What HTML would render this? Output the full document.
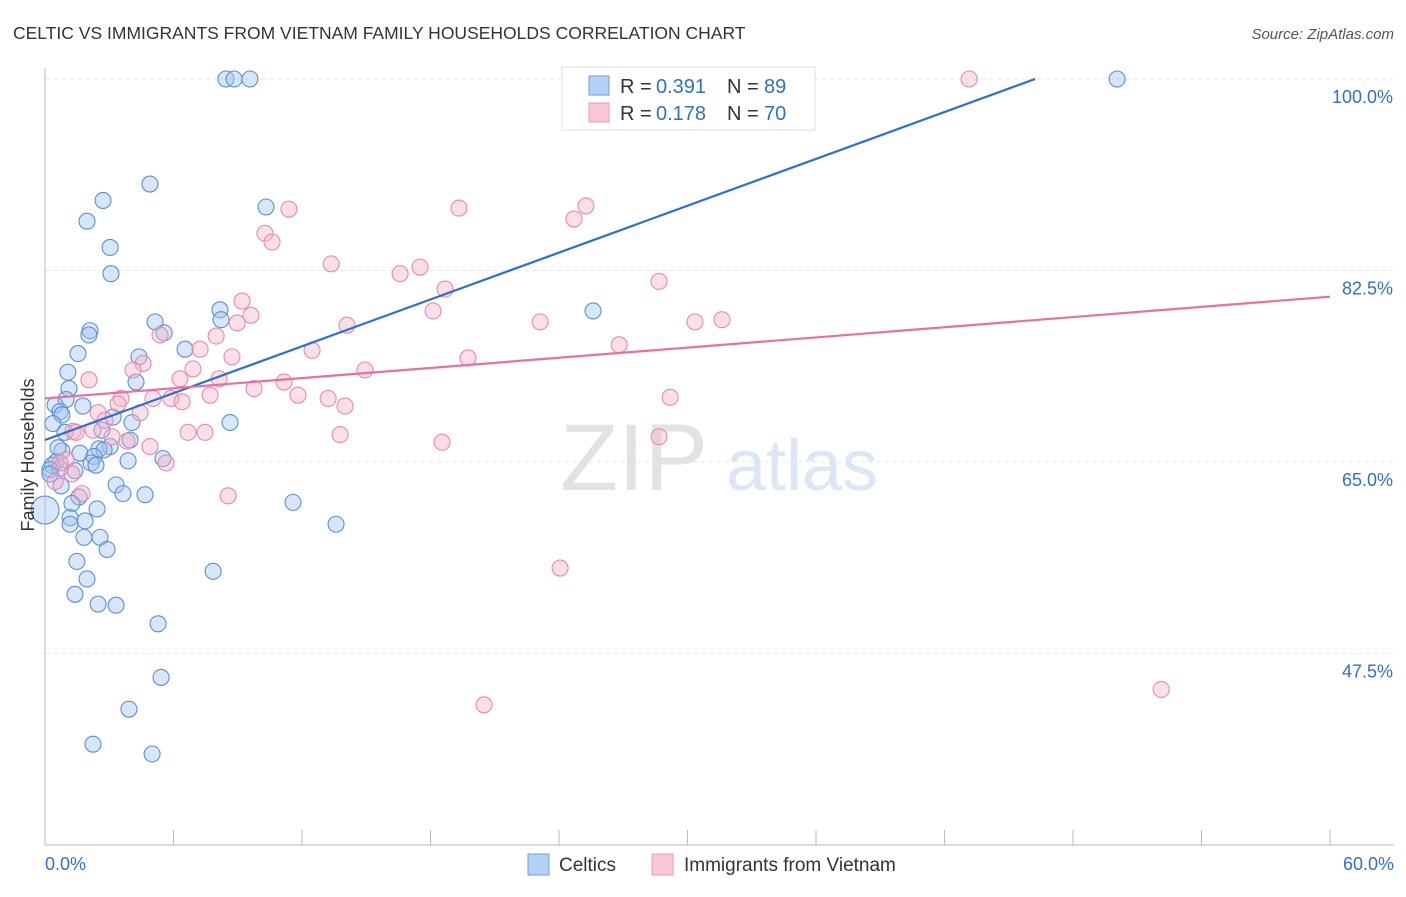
<!DOCTYPE html>
<html><head><meta charset="utf-8"><style>
body{margin:0;background:#fff;font-family:"Liberation Sans",sans-serif}
svg text{font-family:"Liberation Sans",sans-serif}
</style></head><body>
<svg id="chart" width="1406" height="892" viewBox="0 0 1406 892" xmlns="http://www.w3.org/2000/svg">
<text x="13" y="39" font-size="17.5" fill="#333">CELTIC VS IMMIGRANTS FROM VIETNAM FAMILY HOUSEHOLDS CORRELATION CHART</text>
<text x="1394" y="39" font-size="15" fill="#555" text-anchor="end" font-style="italic">Source: ZipAtlas.com</text>
<g id="grid"></g>
<g>
<text x="634" y="490" font-size="95" fill="#e2e2e2" text-anchor="middle" font-family="Liberation Serif">ZIP</text>
<text x="802" y="490" font-size="72" fill="#dbe7f6" text-anchor="middle">atlas</text>
</g>
<g id="ticks"></g>
<g id="points"></g>
<g id="lines"></g>
<text transform="translate(34,455) rotate(-90)" font-size="18" fill="#333" text-anchor="middle">Family Households</text>
<g>
<rect x="562" y="67" width="253" height="63" fill="#fff" stroke="#ddd"/>
<rect x="589" y="76" width="20" height="19" fill="#b4d0f4" stroke="#6d9fe0"/>
<text x="620" y="93" font-size="20" fill="#333">R =</text>
<text x="656" y="93" font-size="20" fill="#2f6fd1">0.391</text>
<text x="727" y="93" font-size="20" fill="#333">N =</text>
<text x="764" y="93" font-size="20" fill="#2f6fd1">89</text>
<rect x="589" y="103" width="20" height="19" fill="#f8c6d6" stroke="#ec98b4"/>
<text x="620" y="120" font-size="20" fill="#333">R =</text>
<text x="656" y="120" font-size="20" fill="#2f6fd1">0.178</text>
<text x="727" y="120" font-size="20" fill="#333">N =</text>
<text x="764" y="120" font-size="20" fill="#2f6fd1">70</text>
</g>
<g>
<rect x="528" y="854" width="21" height="21" fill="#b4d0f4" stroke="#6d9fe0"/>
<text x="559" y="871" font-size="19" fill="#333">Celtics</text>
<rect x="652" y="854" width="21" height="21" fill="#f8c6d6" stroke="#ec98b4"/>
<text x="684" y="871" font-size="19" fill="#333">Immigrants from Vietnam</text>
</g>
</svg>
<script>
const xTicks=[0,60];
const yTicks=[100,82.5,65,47.5];
const celticX=[8.45,8.83,9.57,50.06,4.9,2.71,10.32,1.96,3.04,3.08,25.59,8.17,8.22,5.14,5.56,2.1,2.05,6.54,1.54,4.39,4.25,1.07,1.12,0.98,1.77,0.47,0.7,0.79,3.18,8.64,4.06,0.37,0.93,2.66,3.97,3.04,2.52,2.76,0.79,0.61,1.63,2.29,5.51,3.88,2.15,2.38,0.51,0.33,1.4,0.7,0.23,0.23,3.32,0.75,1.59,3.64,4.67,1.26,11.58,2.43,1.17,1.87,13.59,1.17,1.82,2.57,2.9,1.49,1.96,7.85,1.4,2.48,3.32,5.28,5.42,3.92,2.24,5.0,0];
const celticY=[100,100,100,100,90.4,88.9,88.3,87.0,84.6,82.2,78.8,78.9,78.0,77.8,76.8,77.0,76.6,75.3,74.9,74.6,72.3,73.2,71.7,70.7,70.1,70.2,69.6,69.3,69.1,68.6,68.6,68.5,67.7,67.9,67.0,66.4,66.2,66.1,66.0,66.3,65.8,65.5,65.3,65.1,64.9,64.7,65.0,64.7,64.2,64.4,64.3,63.9,62.9,62.8,61.8,62.1,62.0,61.2,61.3,60.7,59.9,59.6,59.3,59.3,58.1,58.1,57.0,55.9,54.3,55.0,52.9,52.0,51.9,50.2,45.3,42.4,39.2,38.3,60.6];
const vietX=[43.15,19.33,11.39,25.26,24.7,10.27,10.6,13.36,17.51,16.58,28.67,18.68,9.2,9.62,8.97,18.12,14.1,23.12,30.35,31.61,7.99,5.37,26.81,7.24,12.47,4.58,8.73,19.75,4.11,14.94,6.91,2.05,6.3,8.13,9.76,11.16,7.71,11.81,5.88,6.4,5.04,3.55,3.41,13.22,14.01,29.19,4.44,2.48,2.8,2.24,1.31,1.45,6.68,7.47,13.78,28.67,18.54,3.83,3.13,4.9,5.65,0.98,0.7,1.26,0.47,1.73,8.55,24.05,20.5,52.12];
const vietY=[100,88.2,88.1,88.4,87.2,85.9,85.1,83.1,82.8,82.2,81.5,80.8,79.7,78.4,77.7,78.8,77.5,77.8,77.8,78.0,76.5,76.6,75.7,75.3,75.2,74.0,74.6,74.5,73.4,73.4,73.5,72.5,72.6,72.6,71.7,72.3,71.1,71.1,70.8,70.5,70.8,70.8,70.3,70.8,70.1,70.9,69.5,69.5,68.8,67.9,67.8,67.7,67.7,67.7,67.5,67.3,66.8,66.9,67.3,66.4,64.9,65.2,64.9,63.9,63.2,62.1,61.9,55.3,42.8,44.2];
const celticTrend=[0,67.0,46.23,100];
const vietTrend=[0,70.8,60,80.1];

const NS="http://www.w3.org/2000/svg";
const X=v=>45+v/60*1285;
const Y=v=>79+(100-v)*10.94;
function mk(t,a,p){const e=document.createElementNS(NS,t);for(const k in a)e.setAttribute(k,a[k]);p.appendChild(e);return e;}
const grid=document.getElementById('grid'),ticks=document.getElementById('ticks');
yTicks.forEach(v=>{
 const l=mk('line',{x1:45,x2:1394,y1:Y(v),y2:Y(v),stroke:'#e3e3e3','stroke-dasharray':'4,4'},grid);
 
 
 const t=mk('text',{x:1393,y:Y(v)+24,'font-size':18,fill:'#2f6fd1','text-anchor':'end'},ticks);
 t.textContent=v.toFixed(1)+'%';
 
 
});
const ax=mk('line',{x1:45,x2:45,y1:68,y2:845,stroke:'#bbb'},ticks);


const bx=mk('line',{x1:45,x2:1394,y1:845,y2:845,stroke:'#bbb'},ticks);


for(let i=1;i<=10;i++){const tk=mk('line',{x1:X(i*6),x2:X(i*6),y1:830,y2:845,stroke:'#bbb'},ticks);
 
 }
xTicks.forEach((v,i)=>{const t=mk('text',{x:i?1394:45,y:870,'font-size':18,fill:'#2f6fd1','text-anchor':i?'end':'start'},ticks);
 t.textContent=v.toFixed(1)+'%';
 
 });
const pts=document.getElementById('points');
celticX.forEach((x,i)=>{const c=mk('circle',{cx:X(x),cy:Y(celticY[i]),r:i==celticX.length-1?14:8,fill:'rgba(160,196,240,0.42)',stroke:'#5b8fd6','stroke-width':1.1},pts);
 
 });
vietX.forEach((x,i)=>{const c=mk('circle',{cx:X(x),cy:Y(vietY[i]),r:8,fill:'rgba(245,178,200,0.42)',stroke:'#e88aa8','stroke-width':1.1},pts);
 
 });
const ln=document.getElementById('lines');
const bl=mk('line',{x1:X(celticTrend[0]),y1:Y(celticTrend[1]),x2:X(celticTrend[2]),y2:Y(celticTrend[3]),stroke:'#2a6fd6','stroke-width':2.2},ln);


const pl=mk('line',{x1:X(vietTrend[0]),y1:Y(vietTrend[1]),x2:X(vietTrend[2]),y2:Y(vietTrend[3]),stroke:'#e8709a','stroke-width':2.2},ln);


</script>
</body></html>
